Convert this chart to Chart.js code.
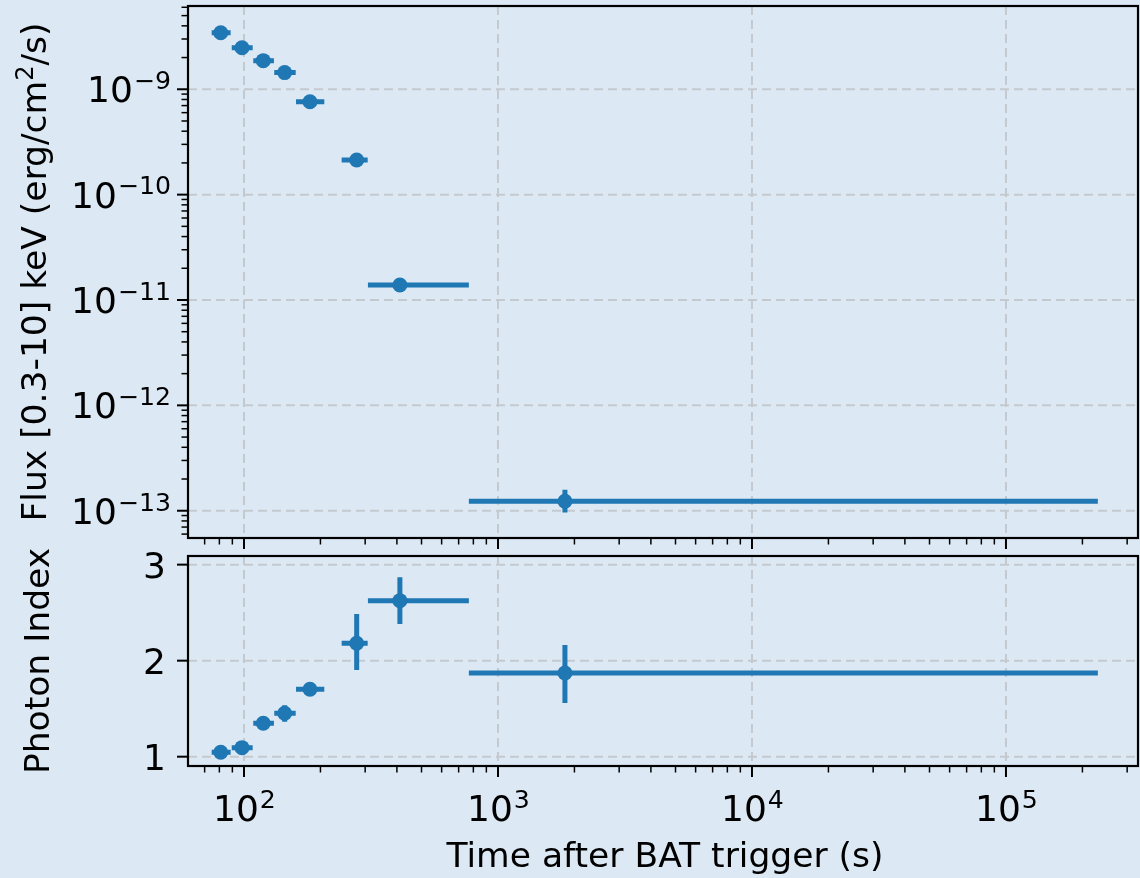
<!DOCTYPE html>
<html>
<head>
<meta charset="utf-8">
<script src="https://cdn.jsdelivr.net/npm/chart.js@4.4.0/dist/chart.umd.min.js"></script>
<style>
html,body{margin:0;padding:0;background:#dce9f5;}
#wrap{position:relative;width:1140px;height:878px;overflow:hidden;}
canvas{position:absolute;left:0;}
</style>
</head>
<body>
<div id="wrap">
<canvas id="fluxCanvas" width="1140" height="556" style="top:0"></canvas>
<canvas id="indexCanvas" width="1140" height="330" style="top:548px"></canvas>
</div>
<script>
// time bins (s after BAT trigger)
var tMid = [81.0, 98.2, 119.1, 144.6, 181.9, 277.8, 411, 1835];
var tLo  = [74.6, 89.5, 108.8, 131.6, 160.3, 242.4, 307.6, 768];
var tHi  = [88.6, 108.2, 131.2, 159.8, 207.1, 306.9, 768, 2.30e5];

// flux 0.3-10 keV
var flux   = [3.44e-9, 2.48e-9, 1.87e-9, 1.44e-9, 7.62e-10, 2.13e-10, 1.39e-11, 1.23e-13];
var fluxLo = [3.30e-9, 2.38e-9, 1.80e-9, 1.38e-9, 7.30e-10, 2.03e-10, 1.33e-11, 9.6e-14];
var fluxHi = [3.58e-9, 2.58e-9, 1.94e-9, 1.50e-9, 7.95e-10, 2.23e-10, 1.45e-11, 1.58e-13];

// photon index
var phIndex = [1.046, 1.094, 1.348, 1.452, 1.702, 2.181, 2.625, 1.872];
var phLo    = [1.02, 1.07, 1.31, 1.365, 1.68, 1.903, 2.382, 1.559];
var phHi    = [1.07, 1.12, 1.39, 1.535, 1.725, 2.486, 2.869, 2.164];

// ticks / labels
var xDecades = [2, 3, 4, 5];
var fluxDecades = [-9, -10, -11, -12, -13];
var indexTicks = [1, 2, 3];
var xTitle = 'Time after BAT trigger (s)';
var fluxTitle = ['Flux [0.3-10] keV (erg/cm', '2', '/s)'];
var indexTitle = 'Photon Index';

// axis limits
var xMin = 60.2, xMax = 3.31e5;
var fluxMin = 5.51e-14, fluxMax = 6.17e-9;
var idxMin = 0.903, idxMax = 3.09;

var BLUE = '#1f77b4';
var FONT = '"DejaVu Sans", sans-serif';
var TICK_FS = 36, LABEL_FS = 34.5;
var GRID = '#c4c9ce';

function minorVals(lo, hi) {
  var out = [];
  for (var e = Math.floor(Math.log10(lo)); e <= Math.ceil(Math.log10(hi)); e++) {
    for (var k = 1; k <= 9; k++) {
      var v = k * Math.pow(10, e);
      if (v >= lo && v <= hi) out.push({v: v, major: k === 1});
    }
  }
  return out;
}

function drawPow(ctx, exp, x, y, align) {
  var base = '10', sup = exp < 0 ? '\u2212' + (-exp) : String(exp);
  var sfs = TICK_FS * 0.7;
  ctx.font = TICK_FS + 'px ' + FONT;
  var wb = ctx.measureText(base).width;
  ctx.font = sfs + 'px ' + FONT;
  var ws = ctx.measureText(sup).width;
  var x0 = align === 'right' ? x - wb - ws : x - (wb + ws) / 2;
  ctx.fillStyle = '#000';
  ctx.textAlign = 'left';
  ctx.textBaseline = 'alphabetic';
  ctx.font = TICK_FS + 'px ' + FONT;
  ctx.fillText(base, x0, y);
  ctx.font = sfs + 'px ' + FONT;
  ctx.fillText(sup, x0 + wb + 1, y - TICK_FS * 0.37);
}

function dashedLine(ctx, x1, y1, x2, y2) {
  ctx.save();
  ctx.strokeStyle = GRID;
  ctx.lineWidth = 2;
  ctx.setLineDash([9, 5]);
  ctx.beginPath();
  ctx.moveTo(x1, y1);
  ctx.lineTo(x2, y2);
  ctx.stroke();
  ctx.restore();
}

function tickMark(ctx, x1, y1, x2, y2, w) {
  ctx.lineWidth = w;
  ctx.strokeStyle = '#000';
  ctx.beginPath();
  ctx.moveTo(x1, y1);
  ctx.lineTo(x2, y2);
  ctx.stroke();
}

// grid + error bars, under the markers
var gridErr = {
  id: 'gridErr',
  beforeDatasetsDraw: function (chart) {
    var ctx = chart.ctx, a = chart.chartArea;
    var xs = chart.scales.x, ys = chart.scales.y;
    var panel = chart.options.panel;
    xDecades.forEach(function (d) {
      var px = xs.getPixelForValue(Math.pow(10, d));
      dashedLine(ctx, px, a.top, px, a.bottom);
    });
    var yv = panel === 'flux' ? fluxDecades.map(function (e) { return Math.pow(10, e); }) : indexTicks;
    yv.forEach(function (v) {
      var py = ys.getPixelForValue(v);
      dashedLine(ctx, a.left, py, a.right, py);
    });
    var yMid = panel === 'flux' ? flux : phIndex;
    var yLo = panel === 'flux' ? fluxLo : phLo;
    var yHi = panel === 'flux' ? fluxHi : phHi;
    ctx.save();
    ctx.strokeStyle = BLUE;
    ctx.lineWidth = 5;
    for (var i = 0; i < tMid.length; i++) {
      var py = ys.getPixelForValue(yMid[i]);
      var px = xs.getPixelForValue(tMid[i]);
      ctx.beginPath();
      ctx.moveTo(xs.getPixelForValue(tLo[i]), py);
      ctx.lineTo(xs.getPixelForValue(tHi[i]), py);
      ctx.moveTo(px, ys.getPixelForValue(yLo[i]));
      ctx.lineTo(px, ys.getPixelForValue(yHi[i]));
      ctx.stroke();
    }
    ctx.restore();
  }
};

// spines, ticks, tick labels, axis titles
var axesDraw = {
  id: 'axesDraw',
  afterDatasetsDraw: function (chart) {
    var ctx = chart.ctx, a = chart.chartArea;
    var xs = chart.scales.x, ys = chart.scales.y;
    var panel = chart.options.panel;
    ctx.save();
    // x ticks on bottom spine
    minorVals(xMin, xMax).forEach(function (t) {
      var px = xs.getPixelForValue(t.v);
      tickMark(ctx, px, a.bottom, px, a.bottom + (t.major ? 11 : 6.5), t.major ? 2 : 1.5);
    });
    if (panel === 'flux') {
      minorVals(fluxMin, fluxMax).forEach(function (t) {
        var py = ys.getPixelForValue(t.v);
        tickMark(ctx, a.left, py, a.left - (t.major ? 11 : 6.5), py, t.major ? 2 : 1.5);
      });
      fluxDecades.forEach(function (e) {
        var py = ys.getPixelForValue(Math.pow(10, e));
        drawPow(ctx, e, 170, py + TICK_FS * 0.3645, 'right');
      });
      // y title with superscript
      ctx.save();
      ctx.translate(46, (a.top + a.bottom) / 2);
      ctx.rotate(-Math.PI / 2);
      ctx.fillStyle = '#000';
      ctx.textAlign = 'left';
      ctx.textBaseline = 'alphabetic';
      ctx.font = LABEL_FS + 'px ' + FONT;
      var w0 = ctx.measureText(fluxTitle[0]).width;
      var w2 = ctx.measureText(fluxTitle[2]).width;
      ctx.font = (LABEL_FS * 0.7) + 'px ' + FONT;
      var w1 = ctx.measureText(fluxTitle[1]).width;
      var x0 = -(w0 + w1 + w2) / 2;
      ctx.font = LABEL_FS + 'px ' + FONT;
      ctx.fillText(fluxTitle[0], x0, 0);
      ctx.fillText(fluxTitle[2], x0 + w0 + w1, 0);
      ctx.font = (LABEL_FS * 0.7) + 'px ' + FONT;
      ctx.fillText(fluxTitle[1], x0 + w0, -LABEL_FS * 0.37);
      ctx.restore();
    } else {
      ctx.fillStyle = '#000';
      ctx.font = TICK_FS + 'px ' + FONT;
      ctx.textAlign = 'right';
      ctx.textBaseline = 'alphabetic';
      indexTicks.forEach(function (v) {
        var py = ys.getPixelForValue(v);
        tickMark(ctx, a.left, py, a.left - 11, py, 2);
        ctx.fillText(String(v), 166, py + TICK_FS * 0.3645);
      });
      xDecades.forEach(function (d) {
        drawPow(ctx, d, xs.getPixelForValue(Math.pow(10, d)), a.bottom + 55, 'center');
      });
      ctx.font = LABEL_FS + 'px ' + FONT;
      ctx.textAlign = 'center';
      ctx.fillText(xTitle, (a.left + a.right) / 2 + 2, 319);
      ctx.save();
      ctx.translate(49, (a.top + a.bottom) / 2);
      ctx.rotate(-Math.PI / 2);
      ctx.textAlign = 'center';
      ctx.fillText(indexTitle, 0, 0);
      ctx.restore();
    }
    // box
    ctx.strokeStyle = '#000';
    ctx.lineWidth = 2.2;
    ctx.strokeRect(a.left, a.top, a.right - a.left, a.bottom - a.top);
    ctx.restore();
  }
};

function makeChart(id, panel, yData, yType, yMin, yMax, pad) {
  return new Chart(document.getElementById(id), {
    type: 'scatter',
    data: {
      datasets: [{
        data: tMid.map(function (t, i) { return {x: t, y: yData[i]}; }),
        pointRadius: 7.5,
        pointBackgroundColor: BLUE,
        pointBorderWidth: 0,
        showLine: false
      }]
    },
    options: {
      panel: panel,
      responsive: false,
      animation: false,
      devicePixelRatio: 1,
      events: [],
      layout: {padding: pad, autoPadding: false},
      plugins: {legend: {display: false}, tooltip: {enabled: false}},
      scales: {
        x: {type: 'logarithmic', min: xMin, max: xMax, bounds: 'data', display: false},
        y: {type: yType, min: yMin, max: yMax, bounds: 'data', display: false}
      }
    },
    plugins: [gridErr, axesDraw]
  });
}

makeChart('fluxCanvas', 'flux', flux, 'logarithmic', fluxMin, fluxMax, {left: 188, right: 2, top: 6, bottom: 18});
makeChart('indexCanvas', 'index', phIndex, 'linear', idxMin, idxMax, {left: 188, right: 2, top: 8, bottom: 112});
</script>
</body>
</html>
